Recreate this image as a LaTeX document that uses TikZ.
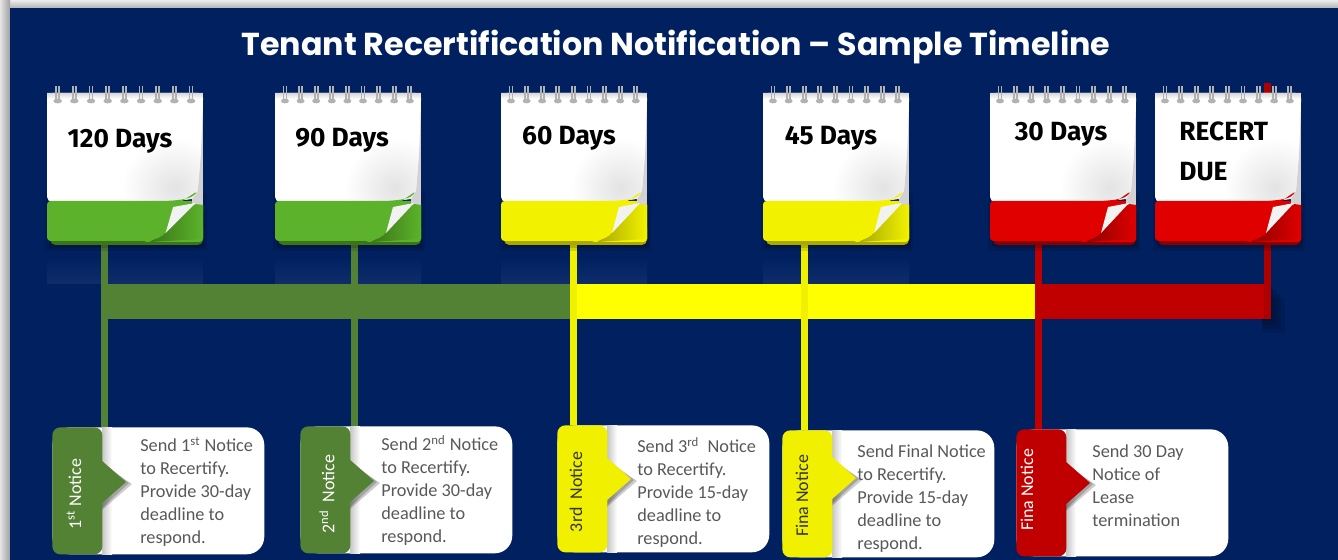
\documentclass[tikz,border=0pt]{standalone}
\usepackage{fontspec}
\newfontfamily\titlefont{Poppins}
\newfontfamily\padfont{Fira Sans}
\newfontfamily\notefont{Carlito}
\usetikzlibrary{calc}
\definecolor{navy}{HTML}{002060}
\definecolor{barGreen}{HTML}{548235}
\definecolor{barYellow}{HTML}{FFFF00}
\definecolor{tabYellow}{HTML}{F0F000}
\definecolor{barRed}{HTML}{C00000}
\definecolor{padGreen}{HTML}{5CB32B}
\definecolor{padGreenDk}{HTML}{3A7518}
\definecolor{padYellow}{HTML}{F2F200}
\definecolor{padYellowDk}{HTML}{A8A800}
\definecolor{padRed}{HTML}{E00000}
\definecolor{padRedDk}{HTML}{8A0000}
\definecolor{noteGrey}{HTML}{595959}
\tikzset{
  stem/.style={line width=7*0.569pt},
  ring/.style={line width=0.95pt,gray!60},
  padlabel/.style={font=\padfont\bfseries\fontsize{15}{23.3}\selectfont,text=black,inner sep=0pt,align=left},
  notetext/.style={font=\notefont\fontsize{10.4}{13.1}\selectfont,text=noteGrey,anchor=north west,inner sep=0pt,align=left},
  tablabel/.style={font=\notefont\fontsize{10.2}{12}\selectfont,rotate=90,inner sep=0pt},
  notebody/.style={fill=white,rounded corners=10pt,anchor=north west,minimum width=212*0.569pt,minimum height=127*0.569pt,inner sep=0pt},
  notetab/.style={rounded corners=4.5pt,anchor=north west,minimum width=50*0.569pt,minimum height=127*0.569pt,inner sep=0pt}
}
% x, y, width, colour, dark colour
\newcommand{\calpad}[5]{
  \begin{scope}[shift={(#1,#2)},xscale=#3/146]
    \fill[black,opacity=0.12] (-2,100) rectangle (150,158);
    \fill[black,opacity=0.15] (2,120) rectangle (148,155);
    \fill[#5,rounded corners=3pt] (3,130) rectangle (146,152);
    \fill[#4,rounded corners=2pt] (90,108) rectangle (146,149);
    \fill[gray!35] (136,4) rectangle (146,112);
    \shade[left color=#5,right color=#4] (96,149) -- (111,140) -- (139,111) -- (146,112) -- (146,146) -- cycle;
    \fill[white,rounded corners=3pt] (0,109) -- (0,0) -- (146,0) -- (146,12) -- (144,60) -- (141,98) -- (136,106) -- (110,109) -- cycle;
    \begin{scope}
      \clip (0,109) -- (0,0) -- (146,0) -- (144,60) -- (141,98) -- (136,106) -- (110,109) -- cycle;
      \shade[inner color=gray!22,outer color=white] (70,45) rectangle (170,145);
      \shade[top color=gray!30,bottom color=white] (0,0) rectangle (146,6);
    \end{scope}
    \fill[#4,rounded corners=2pt] (0,108) -- (110,108) .. controls (128,107) and (136,105) .. (141,98) -- (118,114) -- (111,140) .. controls (104,146) and (96,148) .. (84,148) -- (0,148) -- cycle;
    \fill[gray!10] (118,114) -- (139,110) -- (111,140) -- cycle;
    \foreach \r in {0,...,8} {
      \draw[ring] ({10+15.6*\r-1.5},-7) -- ({10+15.6*\r-1.5},8);
      \draw[ring] ({10+15.6*\r+1.5},-7) -- ({10+15.6*\r+1.5},8);
      \fill[gray!60] ({10+15.6*\r},8) ellipse (4 and 2.4);
    }
  \end{scope}
}
% name, x, y, colour, tip y
\newcommand{\notecard}[5]{
  \node[notebody] (#1) at (#2,#3) {};
  \shade[left color=gray!45,right color=white] ($(#1.north west)+(50,0.5)$) rectangle ($(#1.south west)+(60,-0.5)$);
  \fill[black,opacity=0.2] ($(#2+50,#5-18)$) -- ($(#2+80,#5+2)$) -- ($(#2+50,#5+28)$) -- cycle;
  \fill[black,opacity=0.2] ($(#2+50,#5-20)$) -- ($(#2+77,#5+1)$) -- ($(#2+50,#5+26)$) -- cycle;
  \node[notetab,fill=#4] (#1tab) at (#2,#3) {};
  \fill[#4] ($(#2+49,#5-22)$) -- ($(#2+74,#5)$) -- ($(#2+49,#5+22)$) -- cycle;
}
\begin{document}
\begin{tikzpicture}[x=0.02cm,y=-0.02cm]
  \useasboundingbox (0,0) rectangle (1338,560);
  \shade[top color=gray!15,bottom color=gray!60] (0,0) rectangle (1338,8);
  \shade[left color=gray!20,right color=gray!75] (0,0) rectangle (10,560);
  \fill[navy] (10,8) rectangle (1338,560);
  \node[font=\titlefont\bfseries\fontsize{18.05}{24}\selectfont,text=white,inner sep=0pt] (title) at (676,47) {Tenant Recertification Notification – Sample Timeline};

  % reflections
  \foreach \xa/\xb in {47/203,275/421,501/647,763/909} {
    \shade[top color=navy,bottom color=white!6!navy] (\xa,258) rectangle (\xb,284);
  }

  % bar
  \foreach \i in {2,6,10,14} {
    \fill[black,opacity=0.1] (1262,284+\i) rectangle (1271+\i,319+\i);
  }
  \fill[barGreen] (101,284) rectangle (577,319);
  \fill[barYellow] (577,284) rectangle (1035,319);
  \fill[barRed] (1035,284) rectangle (1271,319);

  % stems
  \coordinate (stemA) at (104.5,240);
  \coordinate (stemB) at (354.5,240);
  \coordinate (stemC) at (573.5,240);
  \coordinate (stemD) at (804.5,240);
  \coordinate (stemE) at (1038.5,240);
  \coordinate (stemF) at (1267.5,83);
  \coordinate (stemEnd) at (1267.5,319);

  \notecard{noteA}{52}{427}{barGreen}{482}
  \notecard{noteB}{300}{426}{barGreen}{481}
  \notecard{noteC}{557}{425}{tabYellow}{479}
  \notecard{noteD}{782}{430}{tabYellow}{478}
  \notecard{noteE}{1016}{429}{barRed}{483}

  \draw[stem,barGreen] (stemA) -- (stemA |- noteA.north);
  \draw[stem,barGreen] (stemB) -- (stemB |- noteB.north);
  \draw[stem,tabYellow] (stemC) -- (stemC |- noteC.north);
  \draw[stem,tabYellow] (stemD) -- (stemD |- noteD.north);
  \draw[stem,barRed] (stemE) -- (stemE |- noteE.north);
  \draw[stem,barRed!90!black] (stemF) -- (stemEnd);

  % calendars
  \calpad{47}{93}{156}{padGreen}{padGreenDk}
  \calpad{275}{93}{146}{padGreen}{padGreenDk}
  \calpad{501}{93}{146}{padYellow}{padYellowDk}
  \calpad{763}{93}{146}{padYellow}{padYellowDk}
  \calpad{990}{93}{146}{padRed}{padRedDk}
  \calpad{1155}{93}{146}{padRed}{padRedDk}

  \node[padlabel] (padA) at (120,141) {120 Days};
  \node[padlabel] (padB) at (342,140) {90 Days};
  \node[padlabel] (padC) at (569,138) {60 Days};
  \node[padlabel] (padD) at (831,138) {45 Days};
  \node[padlabel] (padE) at (1061,134) {30 Days};
  \node[padlabel,anchor=north west] (padF) at (1179,121) {RECERT\\DUE};

  % notices
  \node[notetext] (textA) at (140,437) {Send 1\textsuperscript{st} Notice\\to Recertify.\\Provide 30-day\\deadline to\\respond.};
  \node[notetext] (textB) at (381,435) {Send 2\textsuperscript{nd} Notice\\to Recertify.\\Provide 30-day\\deadline to\\respond.};
  \node[notetext] (textC) at (637,437) {Send 3\textsuperscript{rd}\ \ Notice\\to Recertify.\\Provide 15-day\\deadline to\\respond.};
  \node[notetext] (textD) at (857,444) {Send Final Notice\\to Recertify.\\Provide 15-day\\deadline to\\respond.};
  \node[notetext] (textE) at (1092,444) {Send 30 Day\\Notice of\\Lease\\termination};

  \node[tablabel,text=white] (tabA) at (74,494) {1\textsuperscript{st} Notice};
  \node[tablabel,text=white] (tabB) at (327,494) {2\textsuperscript{nd}\ \ Notice};
  \node[tablabel,text=black!80] (tabC) at (576,492) {3rd\ \ Notice};
  \node[tablabel,text=black!80] (tabD) at (802,496) {Fina Notice};
  \node[tablabel,text=white] (tabE) at (1027,490) {Fina Notice};
\end{tikzpicture}
\end{document}
